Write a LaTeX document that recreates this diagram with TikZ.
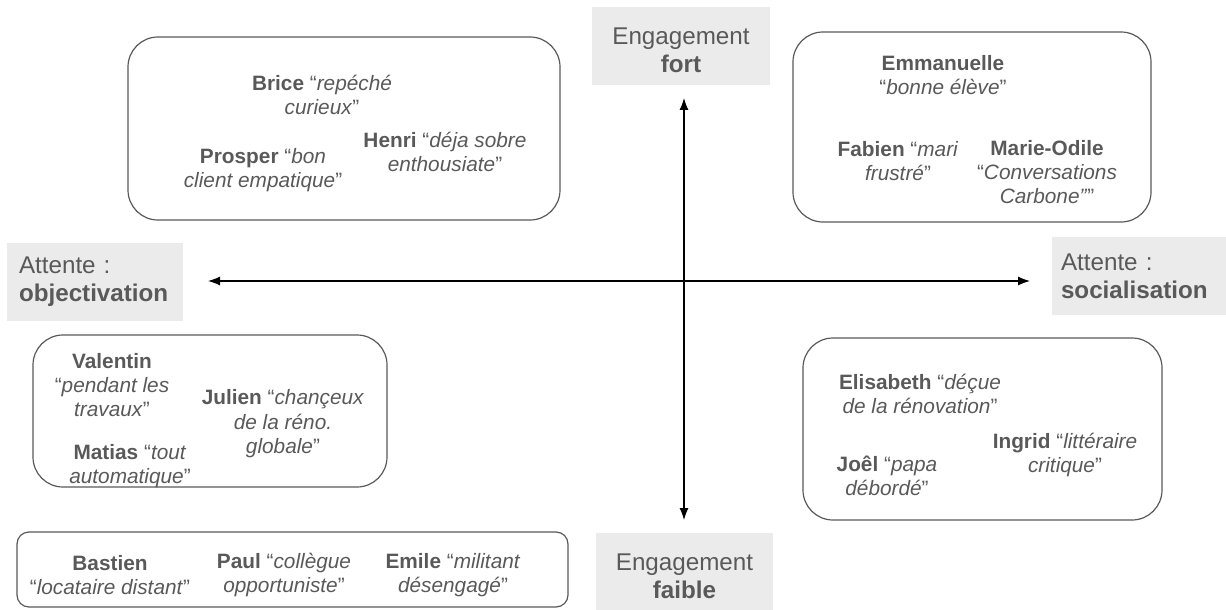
\documentclass[tikz,border=0pt]{standalone}
\usepackage{fontspec}
\setmainfont{Liberation Sans}
\usetikzlibrary{arrows.meta}
\definecolor{txtgray}{HTML}{595959}
\definecolor{boxgray}{HTML}{EBEBEB}
\tikzstyle{person}=[align=center,text=txtgray,inner sep=0pt,font=\fontsize{10.4}{12.2}\selectfont]
\tikzstyle{group}=[draw=txtgray,line width=0.6pt,rounded corners=15pt]
\tikzstyle{axislabel}=[fill=boxgray,text=txtgray,minimum height=39pt,inner ysep=0pt,font=\fontsize{12.1}{13.8}\selectfont]
\tikzstyle{axis}=[line width=0.6pt,arrows={Latex[length=6pt,width=4.5pt]-Latex[length=6pt,width=4.5pt]}]

\begin{document}
\begin{tikzpicture}[x=0.5pt,y=-0.5pt]
    \useasboundingbox (0,0) rectangle (1226,610);
    \draw[group] (128,37) rectangle (560,220);
    \draw[group] (793,32) rectangle (1151,222);
    \draw[group] (33,335) rectangle (387,487);
    \draw[group] (803,338) rectangle (1162,520);
    \draw[group,rounded corners=6pt] (17,532) rectangle (568,607);

    \fill[boxgray] (592,7) rectangle (770,85);
    \fill[boxgray] (596,533) rectangle (773,610);
    \node[axislabel,align=center,fill=none] (fort) at (681,50) {Engagement\\\textbf{fort}};
    \node[axislabel,align=center,fill=none] (faible) at (684.5,576) {Engagement\\\textbf{faible}};
    \node[axislabel,align=left,text width=76pt,inner xsep=6pt] (objectivation) at (95,281.5) {Attente :\\\textbf{objectivation}};
    \node[axislabel,align=left,text width=78pt,inner xsep=4.5pt] (socialisation) at (1139,276) {Attente :\\\textbf{socialisation}};

    \coordinate (vtop) at (684,98);
    \coordinate (vbot) at (684,520);
    \coordinate (hleft) at (208,281);
    \coordinate (hright) at (1030,281);
    \draw[axis] (vbot) -- (vtop);
    \draw[axis] (hleft) -- (hright);

    \node[person] (brice) at (322,95) {\textbf{Brice} “\textit{repéché}\\\textit{curieux}”};
    \node[person] (henri) at (445,152) {\textbf{Henri} “\textit{déja sobre}\\\textit{enthousiate}”};
    \node[person] (prosper) at (263,170) {\textbf{Prosper} “\textit{bon}\\\textit{client empatique}”};
    \node[person] (emmanuelle) at (943,75) {\textbf{Emmanuelle}\\“\textit{bonne élève}”};
    \node[person] (fabien) at (898,161) {\textbf{Fabien} “\textit{mari}\\\textit{frustré}”};
    \node[person] (marieodile) at (1047,172) {\textbf{Marie-Odile}\\“\textit{Conversations}\\\textit{Carbone”}”};
    \node[person] (valentin) at (112,385) {\textbf{Valentin}\\“\textit{pendant les}\\\textit{travaux}”};
    \node[person] (julien) at (283,424) {\textbf{Julien} “\textit{chançeux}\\\textit{de la réno.}\\\textit{globale}”};
    \node[person] (matias) at (130,466) {\textbf{Matias} “\textit{tout}\\\textit{automatique}”};
    \node[person] (elisabeth) at (920,394) {\textbf{Elisabeth} “\textit{déçue}\\\textit{de la rénovation}”};
    \node[person] (ingrid) at (1065,455) {\textbf{Ingrid} “\textit{littéraire}\\\textit{critique}”};
    \node[person] (joel) at (887,476) {\textbf{Joêl} “\textit{papa}\\\textit{débordé}”};
    \node[person] (bastien) at (110,575) {\textbf{Bastien}\\“\textit{locataire distant}”};
    \node[person] (paul) at (284,575) {\textbf{Paul} “\textit{collègue}\\\textit{opportuniste}”};
    \node[person] (emile) at (453,575) {\textbf{Emile} “\textit{militant}\\\textit{désengagé}”};
\end{tikzpicture}
\end{document}
